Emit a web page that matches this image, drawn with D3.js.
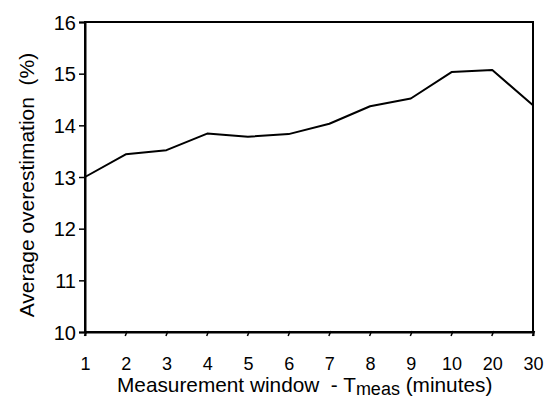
<!DOCTYPE html>
<html><head><meta charset="utf-8">
<script src="https://cdn.jsdelivr.net/npm/d3@7"></script>
<style>
body{margin:0;background:#fff;}
text{font-family:"Liberation Sans",Arial,sans-serif;fill:#000;}
</style></head>
<body><svg id="c" width="552" height="398"></svg>
<script>
const categories = ["1","2","3","4","5","6","7","8","9","10","20","30"];
const values = [13.0, 13.44, 13.52, 13.84, 13.78, 13.83, 14.03, 14.37, 14.52, 15.03, 15.07, 14.39];
const yTicks = [10, 11, 12, 13, 14, 15, 16];

const svg = d3.select("#c");
const L = 85, R = 533, T = 22, B = 332;
const x = d3.scalePoint().domain(categories).range([L, R]);
const y = d3.scaleLinear().domain([10, 16]).range([B, T]);
const FF = "Liberation Sans, Arial, sans-serif";

svg.append("rect").attr("x", L).attr("y", T).attr("width", R - L).attr("height", B - T)
  .attr("fill", "none").attr("stroke", "#000").attr("stroke-width", 2);

const yAxis = svg.append("g").attr("transform", `translate(${L},0)`)
  .call(d3.axisLeft(y).tickValues(yTicks).tickSize(6).tickPadding(3).tickFormat(d3.format("d")));
yAxis.select(".domain").attr("stroke-width", 2);
yAxis.selectAll(".tick line").attr("stroke-width", 1.5);
yAxis.selectAll(".tick text").style("font-size", "20px").style("font-family", FF).attr("dy", "0.36em");

const xAxis = svg.append("g").attr("transform", `translate(0,${B})`)
  .call(d3.axisBottom(x).tickSize(4).tickPadding(21));
xAxis.select(".domain").attr("stroke-width", 2);
xAxis.selectAll(".tick line").attr("stroke-width", 1.5).attr("x1", 1).attr("y1", -1).attr("x2", -1).attr("y2", 4);
xAxis.selectAll(".tick text").style("font-size", "18px").style("font-family", FF);

svg.append("path").datum(values)
  .attr("fill", "none").attr("stroke", "#000").attr("stroke-width", 2).attr("stroke-linejoin", "round")
  .attr("d", d3.line().x((d, i) => x(categories[i])).y(d => y(d)));

svg.append("text").attr("transform", `translate(34,185) rotate(-90)`)
  .attr("text-anchor", "middle").style("font-size", "21px").text("Average overestimation\u00a0 (%)");

const xt = svg.append("text").attr("x", 117).attr("y", 392)
  .attr("text-anchor", "start").style("font-size", "20.8px");
xt.append("tspan").text("Measurement window\u00a0 - T");
xt.append("tspan").attr("dy", 3).style("font-size", "18px").text("meas");
xt.append("tspan").attr("dy", -3).text(" (minutes)");
</script></body></html>
